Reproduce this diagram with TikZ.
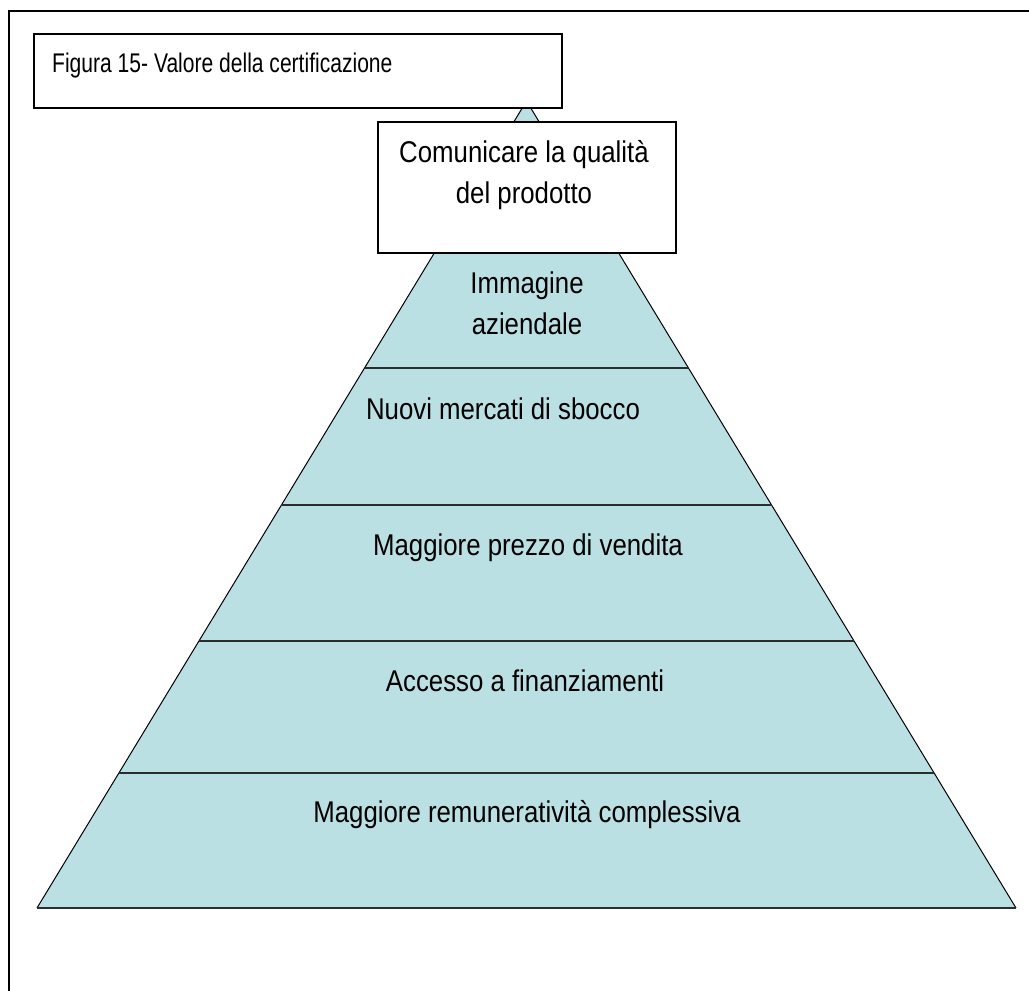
\documentclass[tikz,border=0pt]{standalone}
\usepackage{fontspec}
\setmainfont{Liberation Sans}
\newfontfamily\bodyfont{Liberation Sans}[FakeStretch=0.86]
\newfontfamily\titlefont{Liberation Sans}[FakeStretch=0.78]
\usetikzlibrary{calc}
\definecolor{pyrfill}{RGB}{187,224,227}
\definecolor{divline}{RGB}{40,45,45}
\tikzset{
  boxstyle/.style={draw=black, line width=2pt, fill=white, inner sep=0pt},
  lbl/.style={font=\bodyfont\fontsize{30}{42}\selectfont, inner sep=0pt, anchor=base},
  ttl/.style={font=\titlefont\fontsize{27}{36}\selectfont, inner sep=0pt, anchor=base west},
  divider/.style={draw=divline, line width=2.2pt},
}
\begin{document}
\begin{tikzpicture}[x=1pt, y=-1pt]
\useasboundingbox (0,0) rectangle (1029,991);
% outer frame (extends beyond the page on right and bottom)
\draw[line width=2pt] (9,1000) -- (9,11) -- (1040,11);
% pyramid
\coordinate (apex) at (526.5,101);
\coordinate (bl) at (37,908);
\coordinate (br) at (1016,908);
\fill[pyrfill] (apex) -- (bl) -- (br) -- cycle;
\draw[line width=1pt] (bl) -- (apex) -- (br);
\draw[draw=divline, line width=1.5pt] (bl) -- (br);
\foreach \t/\n in {0.3309/a, 0.5006/b, 0.6691/c, 0.8327/d}{
  \coordinate (L\n) at ($(apex)!\t!(bl)$);
  \coordinate (R\n) at ($(apex)!\t!(br)$);
}
\draw[divider] (La) -- (Ra);
\draw[divider] (Lb) -- (Rb);
\draw[divider] (Lc) -- (Rc);
\draw[divider] (Ld) -- (Rd);
% title box
\node[boxstyle, minimum width=528pt, minimum height=74pt, anchor=north west] (titlebox) at (33,33) {};
\node[ttl] (title) at (52,72) {Figura 15- Valore della certificazione};
% communication box
\node[boxstyle, minimum width=298pt, minimum height=131pt, anchor=north west] (commbox) at (377,121) {};
\node[lbl] (comm1) at (524,162) {Comunicare la qualità};
\node[lbl] (comm2) at (524,203) {del prodotto};
% level labels
\node[lbl] (img1) at (527,293) {Immagine};
\node[lbl] (img2) at (527,334) {aziendale};
\node[lbl] (nuovi) at (503,419) {Nuovi mercati di sbocco};
\node[lbl] (prezzo) at (528,555) {Maggiore prezzo di vendita};
\node[lbl] (accesso) at (525,691) {Accesso a finanziamenti};
\node[lbl] (remun) at (527,822) {Maggiore remuneratività complessiva};
\end{tikzpicture}
\end{document}
